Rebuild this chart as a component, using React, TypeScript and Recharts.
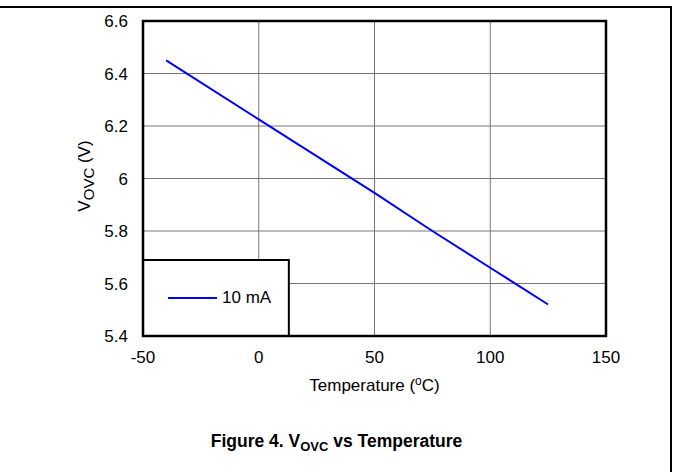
import { LineChart, Line, XAxis, YAxis, CartesianGrid, ReferenceArea, Legend } from 'recharts'

const FONT = "Arial, 'Liberation Sans', sans-serif"

// temperature (°C) and V_OVC (V) for the 10 mA curve
const temps = [-40, 0, 25, 50, 75, 100, 125]
const vovc10mA = [6.45, 6.225, 6.085, 5.945, 5.8, 5.66, 5.52]

const xTicks = [-50, 0, 50, 100, 150]
const yTicks = [5.4, 5.6, 5.8, 6.0, 6.2, 6.4, 6.6]

const seriesName = '10 mA'

const data = temps.map((t, i) => ({ t, v: vovc10mA[i] }))

function XLabel({ viewBox }: any) {
  const cx = viewBox.x + viewBox.width / 2
  return (
    <text x={cx} y={viewBox.y + 55} textAnchor="middle" fontFamily={FONT} fontSize={17} fill="#000">
      Temperature (<tspan dy={-6} fontSize={12}>o</tspan><tspan dy={6}>C)</tspan>
    </text>
  )
}

function YLabel() {
  const x = 90
  const y = 176
  return (
    <text x={x} y={y} transform={`rotate(-90, ${x}, ${y})`} textAnchor="middle" fontFamily={FONT} fontSize={17} fill="#000">
      V<tspan dy={4} fontSize={15}>OVC</tspan><tspan dy={-4}> (V)</tspan>
    </text>
  )
}

function LegendBox({ payload }: any) {
  const item = payload && payload[0]
  return (
    <div style={{ display: 'flex', alignItems: 'center', fontFamily: FONT, fontSize: 17, lineHeight: '20px', color: '#000' }}>
      <span style={{ display: 'inline-block', width: 49, height: 0, borderTop: `2px solid ${item ? item.color : '#0000ff'}`, marginRight: 5 }} />
      <span>{item ? item.value : seriesName}</span>
    </div>
  )
}

export default function App() {
  return (
    <div style={{ position: 'absolute', left: 0, top: 0, width: 673, height: 472, background: '#fff' }}>
      <div style={{ position: 'absolute', left: 0, top: 6, width: 672, height: 0, borderTop: '2px solid #000' }} />
      <div style={{ position: 'absolute', left: 670, top: 6, width: 0, height: 466, borderLeft: '2px solid #000' }} />
      <LineChart width={673} height={472} data={data} margin={{ top: 21, right: 67, bottom: 106, left: 83 }}>
        <CartesianGrid stroke="#777" strokeWidth={1} horizontalValues={yTicks} verticalValues={xTicks} />
        <XAxis
          dataKey="t"
          type="number"
          domain={[-50, 150]}
          ticks={xTicks}
          height={30}
          axisLine={false}
          tickLine={false}
          tickSize={0}
          tickMargin={15}
          tick={{ fill: '#000', fontSize: 17, fontFamily: FONT }}
          label={<XLabel />}
        />
        <YAxis
          type="number"
          domain={[5.4, 6.6]}
          ticks={yTicks}
          width={60}
          axisLine={false}
          tickLine={false}
          tickSize={0}
          tickMargin={15}
          tickFormatter={(v: number) => String(+v.toFixed(1))}
          tick={{ fill: '#000', fontSize: 17, fontFamily: FONT }}
          label={<YLabel />}
        />
        <ReferenceArea x1={-50} x2={13} y1={5.4} y2={5.69} fill="#fff" fillOpacity={1} stroke="#000" strokeWidth={2} ifOverflow="visible" />
        <ReferenceArea x1={-50} x2={150} y1={5.4} y2={6.6} fill="none" stroke="#000" strokeWidth={2.5} ifOverflow="visible" />
        <Line
          type="linear"
          dataKey="v"
          name={seriesName}
          stroke="#0000ff"
          strokeWidth={2}
          dot={false}
          isAnimationActive={false}
        />
        <Legend
          layout="horizontal"
          verticalAlign="middle"
          align="center"
          content={<LegendBox />}
          wrapperStyle={{ position: 'absolute', left: 168, top: 288, width: 'auto' }}
        />
      </LineChart>
      <div style={{ position: 'absolute', left: 0, top: 431, width: 673, textAlign: 'center', fontFamily: FONT, fontSize: 17.5, fontWeight: 'bold', color: '#000' }}>
        Figure 4. V<sub style={{ fontSize: 13, verticalAlign: -4 }}>OVC</sub> vs Temperature
      </div>
    </div>
  )
}
